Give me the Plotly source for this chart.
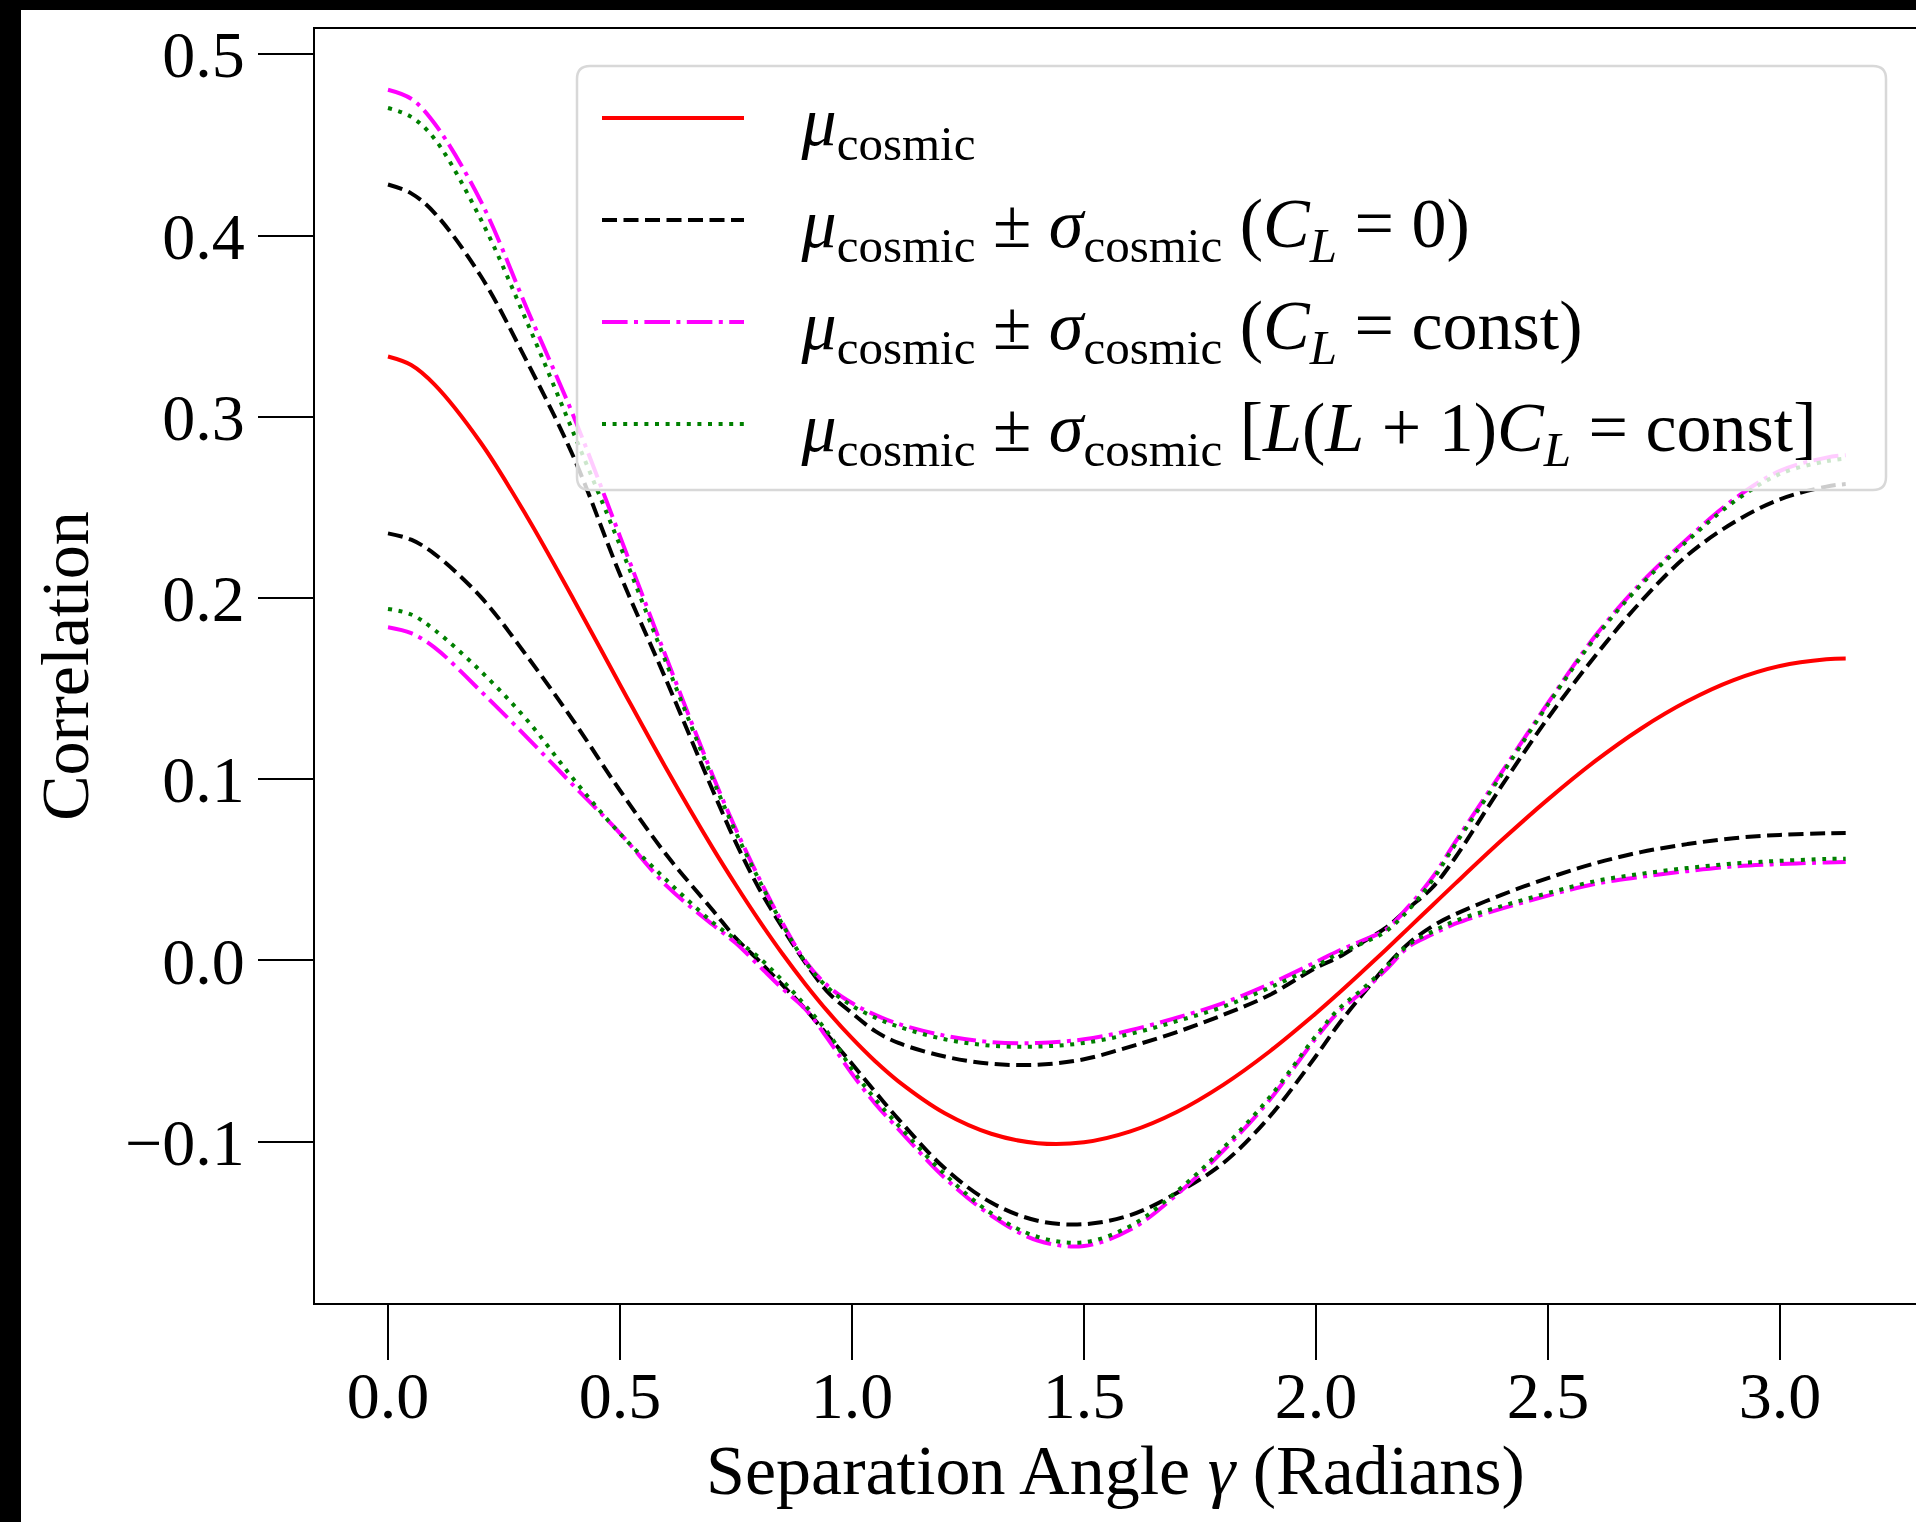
import plotly.graph_objects as go

# ---------------- data ----------------
gamma = [0, 0.05, 0.1, 0.2, 0.3, 0.4, 0.5, 0.6, 0.7, 0.75, 0.8, 0.85, 0.9, 0.95, 1.0,
         1.05, 1.1, 1.2, 1.3, 1.4, 1.5, 1.6, 1.7, 1.8, 1.9, 2.0, 2.05, 2.1, 2.15,
         2.2, 2.25, 2.3, 2.4, 2.5, 2.6, 2.7, 2.8, 2.9, 3.0, 3.1, 3.1416]

mu_cosmic = [0.3333, 0.3286, 0.3179, 0.2857, 0.2447, 0.1992, 0.1522, 0.1058, 0.0620, 0.0415, 0.0220,
             0.0037, -0.0132, -0.0288, -0.0429, -0.0556, -0.0667, -0.0843, -0.0956, -0.1008, -0.1003,
             -0.0943, -0.0836, -0.0686, -0.0502, -0.0291, -0.0178, -0.0061, 0.0058, 0.0180, 0.0302,
             0.0424, 0.0663, 0.0889, 0.1097, 0.1279, 0.1430, 0.1547, 0.1625, 0.1662, 0.1667]

cl0_upper = [0.4282, 0.4233, 0.4126, 0.3777, 0.3302, 0.2778, 0.213, 0.1545, 0.0938, 0.0649, 0.0396,
             0.0182, -0.0015, -0.018, -0.029, -0.039, -0.0455, -0.053, -0.057, -0.0575, -0.0545,
             -0.0475, -0.0395, -0.030, -0.019, -0.004, 0.002, 0.010, 0.018, 0.029, 0.040,
             0.0567, 0.0963, 0.1338, 0.1675, 0.198, 0.2235, 0.2417, 0.2545, 0.2615, 0.2629]
cl0_lower = [0.2357, 0.2322, 0.2244, 0.2006, 0.1678, 0.1321, 0.0938, 0.0583, 0.0277, 0.0122, -0.0003,
             -0.0135, -0.027, -0.042, -0.057, -0.0725, -0.0875, -0.1147, -0.1336, -0.1436, -0.1455,
             -0.1405, -0.1283, -0.1118, -0.0862, -0.0527, -0.0348, -0.0188, -0.0035, 0.0095, 0.0188,
             0.0255, 0.0362, 0.0455, 0.0535, 0.0598, 0.0642, 0.0675, 0.0693, 0.0702, 0.0704]

clconst_upper = [0.4805, 0.4755, 0.462, 0.419, 0.3594, 0.3003, 0.234, 0.167, 0.102, 0.0723, 0.0453,
                 0.0208, -0.0005, -0.0145, -0.0235, -0.030, -0.035, -0.0415, -0.045, -0.0455, -0.0435,
                 -0.0385, -0.0316, -0.0235, -0.013, -0.0008, 0.0055, 0.011, 0.017, 0.030, 0.0455,
                 0.0653, 0.1038, 0.1421, 0.1785, 0.2082, 0.2326, 0.2544, 0.2702, 0.2775, 0.2788]
clconst_lower = [0.1839, 0.1806, 0.1728, 0.1486, 0.1230, 0.0965, 0.0702, 0.0413, 0.0197, 0.0095, -0.003,
                 -0.0155, -0.027, -0.044, -0.0625, -0.079, -0.093, -0.120, -0.1407, -0.1545, -0.1575,
                 -0.1485, -0.1292, -0.105, -0.077, -0.0428, -0.028, -0.0173, -0.0053, 0.0076, 0.0143,
                 0.0203, 0.0286, 0.0358, 0.0422, 0.0461, 0.0493, 0.0519, 0.0532, 0.0541, 0.0544]

llcl_upper = [0.4704, 0.4655, 0.4535, 0.409, 0.352, 0.291, 0.229, 0.164, 0.100, 0.0705, 0.0443,
              0.0200, -0.001, -0.0155, -0.025, -0.0315, -0.0365, -0.0435, -0.047, -0.0475, -0.0455,
              -0.0405, -0.0335, -0.0255, -0.015, -0.003, 0.004, 0.0095, 0.016, 0.028, 0.044,
              0.064, 0.1025, 0.1413, 0.1775, 0.2072, 0.2315, 0.253, 0.2685, 0.2755, 0.2769]
llcl_lower = [0.194, 0.1909, 0.1825, 0.1596, 0.1326, 0.100, 0.0700, 0.0444, 0.021, 0.0115, 0.0015,
              -0.011, -0.025, -0.0405, -0.060, -0.0765, -0.091, -0.118, -0.1395, -0.1525, -0.1555,
              -0.1465, -0.1275, -0.1035, -0.0755, -0.0415, -0.0265, -0.0158, -0.0040, 0.0088, 0.0158,
              0.0218, 0.0300, 0.0372, 0.0437, 0.0478, 0.0510, 0.0535, 0.0550, 0.0560, 0.0562]

x_ticks = [0.0, 0.5, 1.0, 1.5, 2.0, 2.5, 3.0]
y_ticks = [-0.1, 0.0, 0.1, 0.2, 0.3, 0.4, 0.5]

GAP = "\u00a0\u00a0\u00a0"
MU = "<i>μ</i><sub>cosmic</sub>"
PM = MU + " ± <i>σ</i><sub>cosmic</sub>"
labels = [
    GAP + MU,
    GAP + PM + " (<i>C</i><sub><i>L</i></sub> = 0)",
    GAP + PM + " (<i>C</i><sub><i>L</i></sub> = const)",
    GAP + PM + " [<i>L</i>(<i>L</i> + 1)<i>C</i><sub><i>L</i></sub> = const]",
]

# ---------------- figure ----------------
FONT = "Liberation Serif"
W, H = 1916, 1522
L, R, T, B = 315, 0, 29, 219
PW, PH = W - L - R, H - T - B

def px(x):
    return (x - L) / PW

def py(y):
    return (H - B - y) / PH

fig = go.Figure()

LW = 4
DASH = "15px,6.5px"
DOT = "4px,6.6px"
DASHDOT = "25.6px,6.4px,4px,6.4px"

fig.add_trace(go.Scatter(x=gamma, y=mu_cosmic, mode="lines", name=labels[0],
                         line=dict(color="red", width=LW, shape="spline"),
                         legendgroup="g0"))
for ys, show in ((cl0_upper, True), (cl0_lower, False)):
    fig.add_trace(go.Scatter(x=gamma, y=ys, mode="lines", name=labels[1], showlegend=show,
                             line=dict(color="black", width=LW, dash=DASH, shape="spline"),
                             legendgroup="g1"))
for ys, show in ((clconst_upper, True), (clconst_lower, False)):
    fig.add_trace(go.Scatter(x=gamma, y=ys, mode="lines", name=labels[2], showlegend=show,
                             line=dict(color="magenta", width=LW, dash=DASHDOT, shape="spline"),
                             legendgroup="g2"))
for ys, show in ((llcl_upper, True), (llcl_lower, False)):
    fig.add_trace(go.Scatter(x=gamma, y=ys, mode="lines", name=labels[3], showlegend=show,
                             line=dict(color="green", width=LW, dash=DOT, shape="spline"),
                             legendgroup="g3"))

# legend frame (semi-transparent, rounded) drawn as a shape
x0, x1, y0, y1, r = 577, 1886, 66, 490, 13
def P(a, b):
    return f"{px(a):.6f},{py(b):.6f}"
frame = (f"M{P(x0 + r, y0)} L{P(x1 - r, y0)} Q{P(x1, y0)} {P(x1, y0 + r)} "
         f"L{P(x1, y1 - r)} Q{P(x1, y1)} {P(x1 - r, y1)} L{P(x0 + r, y1)} "
         f"Q{P(x0, y1)} {P(x0, y1 - r)} L{P(x0, y0 + r)} Q{P(x0, y0)} {P(x0 + r, y0)} Z")

shapes = [
    dict(type="path", path=frame, xref="paper", yref="paper", layer="above",
         fillcolor="rgba(255,255,255,0.8)", line=dict(color="#d8d8d8", width=2.5)),
    # dark border strips of the picture (top and left)
    dict(type="rect", xref="paper", yref="paper", x0=px(0), x1=px(21), y0=py(H), y1=py(0),
         fillcolor="black", line=dict(width=0), layer="above"),
    dict(type="rect", xref="paper", yref="paper", x0=px(0), x1=px(W), y0=py(10), y1=py(0),
         fillcolor="black", line=dict(width=0), layer="above"),
]

axis_common = dict(
    showgrid=False, zeroline=False, showline=True, linecolor="black", linewidth=2,
    ticks="outside", ticklen=55, tickwidth=2, tickcolor="black",
    tickfont=dict(family=FONT, size=66, color="black"), tickformat=".1f",
)

fig.update_layout(
    width=W, height=H,
    margin=dict(l=L, r=R, t=T, b=B, pad=0),
    paper_bgcolor="white", plot_bgcolor="white",
    font=dict(family=FONT, color="black"),
    xaxis=dict(range=[-0.1573, 3.2931], tickvals=x_ticks, mirror=True,
               ticklabelstandoff=-21,
               title=dict(text="Separation Angle <i>γ</i> (Radians)",
                          font=dict(family=FONT, size=70, color="black"), standoff=12),
               **axis_common),
    yaxis=dict(range=[-0.189, 0.514], tickvals=y_ticks, mirror=False,
               title=dict(text="Correlation", font=dict(family=FONT, size=68, color="black"),
                          standoff=14),
               **axis_common),
    legend=dict(x=px(597), y=py(66), xanchor="left", yanchor="top",
                bgcolor="rgba(0,0,0,0)", borderwidth=0,
                font=dict(family=FONT, size=70, color="black"),
                itemwidth=142, tracegroupgap=8, traceorder="grouped"),
    shapes=shapes,
    showlegend=True,
)

fig.write_html("out.html")
